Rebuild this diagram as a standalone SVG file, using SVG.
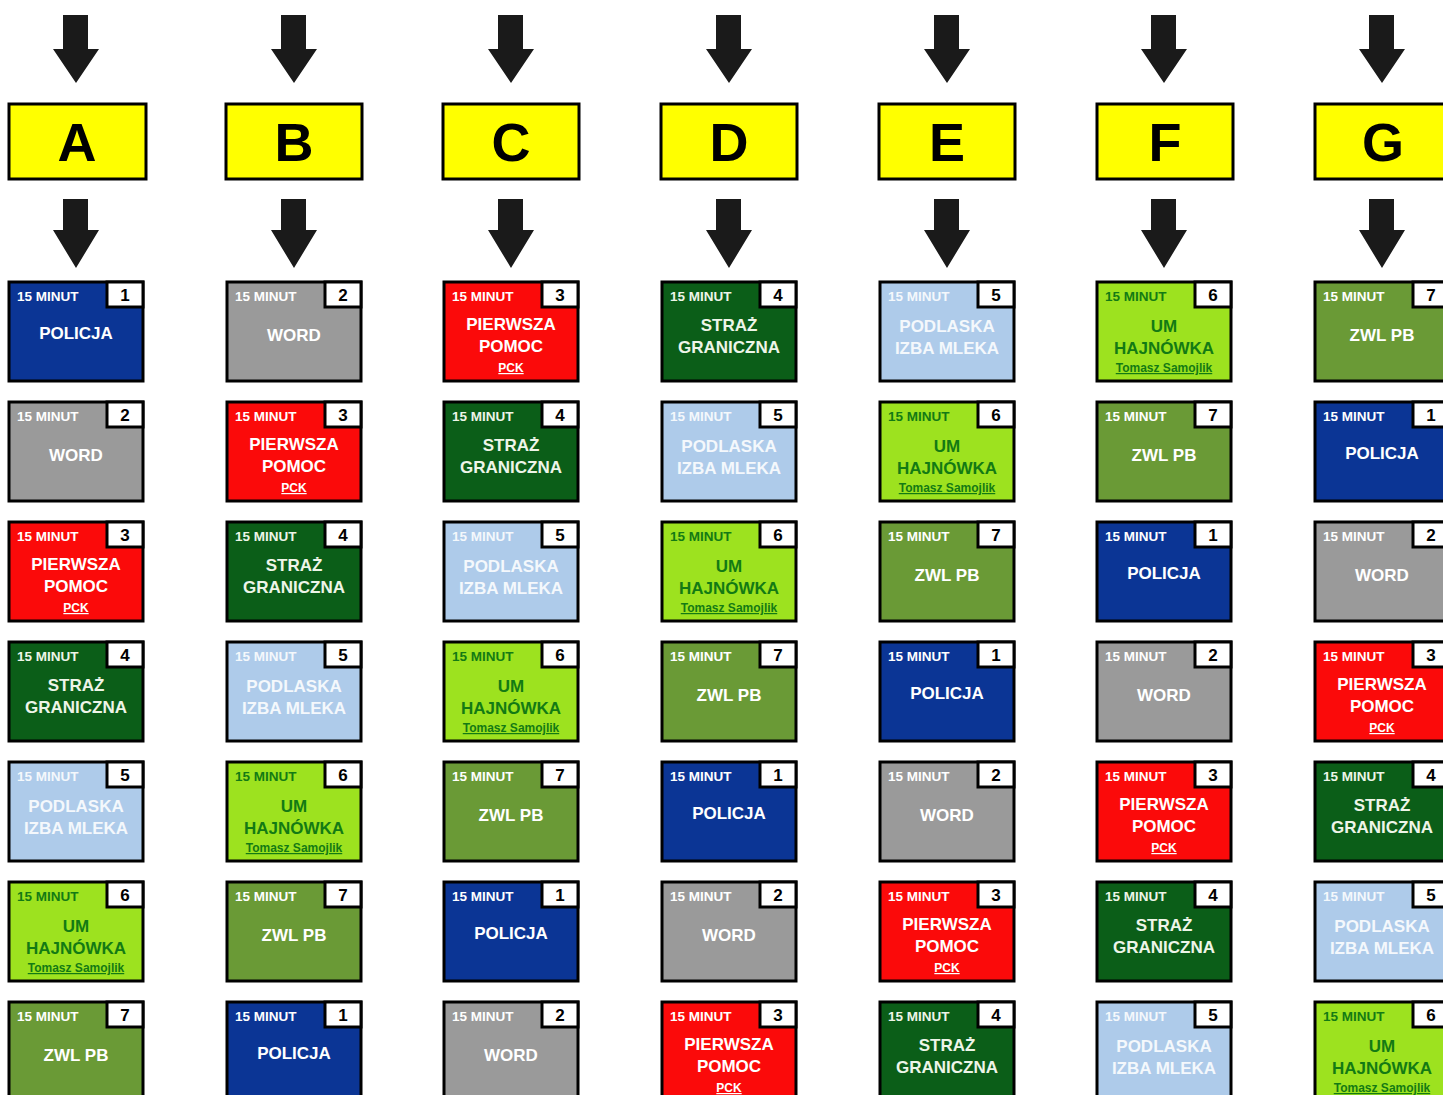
<svg xmlns="http://www.w3.org/2000/svg" width="1443" height="1095" viewBox="0 0 1443 1095">
<defs>
<style>
.bg{stroke:#000;stroke-width:3}
.nb{fill:#fff;stroke:#000;stroke-width:3}
.m{font-family:"Liberation Sans",Arial,sans-serif;font-weight:bold;font-size:13.5px;fill:#fff}
.n{font-family:"Liberation Sans",Arial,sans-serif;font-weight:bold;font-size:17px;fill:#000;text-anchor:middle}
.t{font-family:"Liberation Sans",Arial,sans-serif;font-weight:bold;font-size:17px;fill:#fff;text-anchor:middle}
.s{font-family:"Liberation Sans",Arial,sans-serif;font-weight:bold;font-size:12px;fill:#fff;text-anchor:middle;text-decoration:underline}
.k1 .bg{fill:#0b3595}
.k2 .bg{fill:#9a9a9a}
.k3 .bg{fill:#fb0a0a}
.k4 .bg{fill:#0b5e18}
.k5 .bg{fill:#aecbea}
.k6 .bg{fill:#9de21f}
.k7 .bg{fill:#6a9a36}
.k4 .t,.k4 .m{fill:#eef5e8}
.k5 .t,.k5 .m{fill:#f4f8fc}
.k6 .t,.k6 .m,.k6 .s{fill:#137a14}
.lb{fill:#ffff00;stroke:#000;stroke-width:3}
.lt{font-family:"Liberation Sans",Arial,sans-serif;font-weight:bold;font-size:54px;fill:#000;text-anchor:middle}
.ar{fill:#1a1a1a}
</style>
</defs>

<g id="connectors">
<polygon class="ar" points="63,15 88,15 88,49 99,49 76,83 53,49 63,49"/>
<polygon class="ar" points="63,199 88,199 88,230 99,230 76,268 53,230 63,230"/>
<polygon class="ar" points="281,15 306,15 306,49 317,49 294,83 271,49 281,49"/>
<polygon class="ar" points="281,199 306,199 306,230 317,230 294,268 271,230 281,230"/>
<polygon class="ar" points="498,15 523,15 523,49 534,49 511,83 488,49 498,49"/>
<polygon class="ar" points="498,199 523,199 523,230 534,230 511,268 488,230 498,230"/>
<polygon class="ar" points="716,15 741,15 741,49 752,49 729,83 706,49 716,49"/>
<polygon class="ar" points="716,199 741,199 741,230 752,230 729,268 706,230 716,230"/>
<polygon class="ar" points="934,15 959,15 959,49 970,49 947,83 924,49 934,49"/>
<polygon class="ar" points="934,199 959,199 959,230 970,230 947,268 924,230 934,230"/>
<polygon class="ar" points="1151,15 1176,15 1176,49 1187,49 1164,83 1141,49 1151,49"/>
<polygon class="ar" points="1151,199 1176,199 1176,230 1187,230 1164,268 1141,230 1151,230"/>
<polygon class="ar" points="1369,15 1394,15 1394,49 1405,49 1382,83 1359,49 1369,49"/>
<polygon class="ar" points="1369,199 1394,199 1394,230 1405,230 1382,268 1359,230 1369,230"/>
</g>

<g id="head-A"><rect class="lb" x="9" y="104" width="137" height="75"/><text class="lt" x="77" y="161">A</text></g>
<g id="head-B"><rect class="lb" x="226" y="104" width="136" height="75"/><text class="lt" x="294" y="161">B</text></g>
<g id="head-C"><rect class="lb" x="443" y="104" width="136" height="75"/><text class="lt" x="511" y="161">C</text></g>
<g id="head-D"><rect class="lb" x="661" y="104" width="136" height="75"/><text class="lt" x="729" y="161">D</text></g>
<g id="head-E"><rect class="lb" x="879" y="104" width="136" height="75"/><text class="lt" x="947" y="161">E</text></g>
<g id="head-F"><rect class="lb" x="1097" y="104" width="136" height="75"/><text class="lt" x="1165" y="161">F</text></g>
<g id="head-G"><rect class="lb" x="1315" y="104" width="136" height="75"/><text class="lt" x="1383" y="161">G</text></g>

<!-- Column A -->
<g id="A1" class="k1" transform="translate(9,282)"><rect class="bg" width="134" height="99"/><rect class="nb" x="98" width="36" height="25"/><text class="m" x="8" y="19">15 MINUT</text><text class="n" x="116" y="19">1</text><text class="t" x="67" y="57">POLICJA</text></g>
<g id="A2" class="k2" transform="translate(9,402)"><rect class="bg" width="134" height="99"/><rect class="nb" x="98" width="36" height="25"/><text class="m" x="8" y="19">15 MINUT</text><text class="n" x="116" y="19">2</text><text class="t" x="67" y="59">WORD</text></g>
<g id="A3" class="k3" transform="translate(9,522)"><rect class="bg" width="134" height="99"/><rect class="nb" x="98" width="36" height="25"/><text class="m" x="8" y="19">15 MINUT</text><text class="n" x="116" y="19">3</text><text class="t" x="67" y="48">PIERWSZA</text><text class="t" x="67" y="70">POMOC</text><text class="s" x="67" y="90">PCK</text></g>
<g id="A4" class="k4" transform="translate(9,642)"><rect class="bg" width="134" height="99"/><rect class="nb" x="98" width="36" height="25"/><text class="m" x="8" y="19">15 MINUT</text><text class="n" x="116" y="19">4</text><text class="t" x="67" y="49">STRAŻ</text><text class="t" x="67" y="71">GRANICZNA</text></g>
<g id="A5" class="k5" transform="translate(9,762)"><rect class="bg" width="134" height="99"/><rect class="nb" x="98" width="36" height="25"/><text class="m" x="8" y="19">15 MINUT</text><text class="n" x="116" y="19">5</text><text class="t" x="67" y="50">PODLASKA</text><text class="t" x="67" y="72">IZBA MLEKA</text></g>
<g id="A6" class="k6" transform="translate(9,882)"><rect class="bg" width="134" height="99"/><rect class="nb" x="98" width="36" height="25"/><text class="m" x="8" y="19">15 MINUT</text><text class="n" x="116" y="19">6</text><text class="t" x="67" y="50">UM</text><text class="t" x="67" y="72">HAJNÓWKA</text><text class="s" x="67" y="90">Tomasz Samojlik</text></g>
<g id="A7" class="k7" transform="translate(9,1002)"><rect class="bg" width="134" height="99"/><rect class="nb" x="98" width="36" height="25"/><text class="m" x="8" y="19">15 MINUT</text><text class="n" x="116" y="19">7</text><text class="t" x="67" y="59">ZWL PB</text></g>

<!-- Column B -->
<g id="B1" class="k2" transform="translate(227,282)"><rect class="bg" width="134" height="99"/><rect class="nb" x="98" width="36" height="25"/><text class="m" x="8" y="19">15 MINUT</text><text class="n" x="116" y="19">2</text><text class="t" x="67" y="59">WORD</text></g>
<g id="B2" class="k3" transform="translate(227,402)"><rect class="bg" width="134" height="99"/><rect class="nb" x="98" width="36" height="25"/><text class="m" x="8" y="19">15 MINUT</text><text class="n" x="116" y="19">3</text><text class="t" x="67" y="48">PIERWSZA</text><text class="t" x="67" y="70">POMOC</text><text class="s" x="67" y="90">PCK</text></g>
<g id="B3" class="k4" transform="translate(227,522)"><rect class="bg" width="134" height="99"/><rect class="nb" x="98" width="36" height="25"/><text class="m" x="8" y="19">15 MINUT</text><text class="n" x="116" y="19">4</text><text class="t" x="67" y="49">STRAŻ</text><text class="t" x="67" y="71">GRANICZNA</text></g>
<g id="B4" class="k5" transform="translate(227,642)"><rect class="bg" width="134" height="99"/><rect class="nb" x="98" width="36" height="25"/><text class="m" x="8" y="19">15 MINUT</text><text class="n" x="116" y="19">5</text><text class="t" x="67" y="50">PODLASKA</text><text class="t" x="67" y="72">IZBA MLEKA</text></g>
<g id="B5" class="k6" transform="translate(227,762)"><rect class="bg" width="134" height="99"/><rect class="nb" x="98" width="36" height="25"/><text class="m" x="8" y="19">15 MINUT</text><text class="n" x="116" y="19">6</text><text class="t" x="67" y="50">UM</text><text class="t" x="67" y="72">HAJNÓWKA</text><text class="s" x="67" y="90">Tomasz Samojlik</text></g>
<g id="B6" class="k7" transform="translate(227,882)"><rect class="bg" width="134" height="99"/><rect class="nb" x="98" width="36" height="25"/><text class="m" x="8" y="19">15 MINUT</text><text class="n" x="116" y="19">7</text><text class="t" x="67" y="59">ZWL PB</text></g>
<g id="B7" class="k1" transform="translate(227,1002)"><rect class="bg" width="134" height="99"/><rect class="nb" x="98" width="36" height="25"/><text class="m" x="8" y="19">15 MINUT</text><text class="n" x="116" y="19">1</text><text class="t" x="67" y="57">POLICJA</text></g>

<!-- Column C -->
<g id="C1" class="k3" transform="translate(444,282)"><rect class="bg" width="134" height="99"/><rect class="nb" x="98" width="36" height="25"/><text class="m" x="8" y="19">15 MINUT</text><text class="n" x="116" y="19">3</text><text class="t" x="67" y="48">PIERWSZA</text><text class="t" x="67" y="70">POMOC</text><text class="s" x="67" y="90">PCK</text></g>
<g id="C2" class="k4" transform="translate(444,402)"><rect class="bg" width="134" height="99"/><rect class="nb" x="98" width="36" height="25"/><text class="m" x="8" y="19">15 MINUT</text><text class="n" x="116" y="19">4</text><text class="t" x="67" y="49">STRAŻ</text><text class="t" x="67" y="71">GRANICZNA</text></g>
<g id="C3" class="k5" transform="translate(444,522)"><rect class="bg" width="134" height="99"/><rect class="nb" x="98" width="36" height="25"/><text class="m" x="8" y="19">15 MINUT</text><text class="n" x="116" y="19">5</text><text class="t" x="67" y="50">PODLASKA</text><text class="t" x="67" y="72">IZBA MLEKA</text></g>
<g id="C4" class="k6" transform="translate(444,642)"><rect class="bg" width="134" height="99"/><rect class="nb" x="98" width="36" height="25"/><text class="m" x="8" y="19">15 MINUT</text><text class="n" x="116" y="19">6</text><text class="t" x="67" y="50">UM</text><text class="t" x="67" y="72">HAJNÓWKA</text><text class="s" x="67" y="90">Tomasz Samojlik</text></g>
<g id="C5" class="k7" transform="translate(444,762)"><rect class="bg" width="134" height="99"/><rect class="nb" x="98" width="36" height="25"/><text class="m" x="8" y="19">15 MINUT</text><text class="n" x="116" y="19">7</text><text class="t" x="67" y="59">ZWL PB</text></g>
<g id="C6" class="k1" transform="translate(444,882)"><rect class="bg" width="134" height="99"/><rect class="nb" x="98" width="36" height="25"/><text class="m" x="8" y="19">15 MINUT</text><text class="n" x="116" y="19">1</text><text class="t" x="67" y="57">POLICJA</text></g>
<g id="C7" class="k2" transform="translate(444,1002)"><rect class="bg" width="134" height="99"/><rect class="nb" x="98" width="36" height="25"/><text class="m" x="8" y="19">15 MINUT</text><text class="n" x="116" y="19">2</text><text class="t" x="67" y="59">WORD</text></g>

<!-- Column D -->
<g id="D1" class="k4" transform="translate(662,282)"><rect class="bg" width="134" height="99"/><rect class="nb" x="98" width="36" height="25"/><text class="m" x="8" y="19">15 MINUT</text><text class="n" x="116" y="19">4</text><text class="t" x="67" y="49">STRAŻ</text><text class="t" x="67" y="71">GRANICZNA</text></g>
<g id="D2" class="k5" transform="translate(662,402)"><rect class="bg" width="134" height="99"/><rect class="nb" x="98" width="36" height="25"/><text class="m" x="8" y="19">15 MINUT</text><text class="n" x="116" y="19">5</text><text class="t" x="67" y="50">PODLASKA</text><text class="t" x="67" y="72">IZBA MLEKA</text></g>
<g id="D3" class="k6" transform="translate(662,522)"><rect class="bg" width="134" height="99"/><rect class="nb" x="98" width="36" height="25"/><text class="m" x="8" y="19">15 MINUT</text><text class="n" x="116" y="19">6</text><text class="t" x="67" y="50">UM</text><text class="t" x="67" y="72">HAJNÓWKA</text><text class="s" x="67" y="90">Tomasz Samojlik</text></g>
<g id="D4" class="k7" transform="translate(662,642)"><rect class="bg" width="134" height="99"/><rect class="nb" x="98" width="36" height="25"/><text class="m" x="8" y="19">15 MINUT</text><text class="n" x="116" y="19">7</text><text class="t" x="67" y="59">ZWL PB</text></g>
<g id="D5" class="k1" transform="translate(662,762)"><rect class="bg" width="134" height="99"/><rect class="nb" x="98" width="36" height="25"/><text class="m" x="8" y="19">15 MINUT</text><text class="n" x="116" y="19">1</text><text class="t" x="67" y="57">POLICJA</text></g>
<g id="D6" class="k2" transform="translate(662,882)"><rect class="bg" width="134" height="99"/><rect class="nb" x="98" width="36" height="25"/><text class="m" x="8" y="19">15 MINUT</text><text class="n" x="116" y="19">2</text><text class="t" x="67" y="59">WORD</text></g>
<g id="D7" class="k3" transform="translate(662,1002)"><rect class="bg" width="134" height="99"/><rect class="nb" x="98" width="36" height="25"/><text class="m" x="8" y="19">15 MINUT</text><text class="n" x="116" y="19">3</text><text class="t" x="67" y="48">PIERWSZA</text><text class="t" x="67" y="70">POMOC</text><text class="s" x="67" y="90">PCK</text></g>

<!-- Column E -->
<g id="E1" class="k5" transform="translate(880,282)"><rect class="bg" width="134" height="99"/><rect class="nb" x="98" width="36" height="25"/><text class="m" x="8" y="19">15 MINUT</text><text class="n" x="116" y="19">5</text><text class="t" x="67" y="50">PODLASKA</text><text class="t" x="67" y="72">IZBA MLEKA</text></g>
<g id="E2" class="k6" transform="translate(880,402)"><rect class="bg" width="134" height="99"/><rect class="nb" x="98" width="36" height="25"/><text class="m" x="8" y="19">15 MINUT</text><text class="n" x="116" y="19">6</text><text class="t" x="67" y="50">UM</text><text class="t" x="67" y="72">HAJNÓWKA</text><text class="s" x="67" y="90">Tomasz Samojlik</text></g>
<g id="E3" class="k7" transform="translate(880,522)"><rect class="bg" width="134" height="99"/><rect class="nb" x="98" width="36" height="25"/><text class="m" x="8" y="19">15 MINUT</text><text class="n" x="116" y="19">7</text><text class="t" x="67" y="59">ZWL PB</text></g>
<g id="E4" class="k1" transform="translate(880,642)"><rect class="bg" width="134" height="99"/><rect class="nb" x="98" width="36" height="25"/><text class="m" x="8" y="19">15 MINUT</text><text class="n" x="116" y="19">1</text><text class="t" x="67" y="57">POLICJA</text></g>
<g id="E5" class="k2" transform="translate(880,762)"><rect class="bg" width="134" height="99"/><rect class="nb" x="98" width="36" height="25"/><text class="m" x="8" y="19">15 MINUT</text><text class="n" x="116" y="19">2</text><text class="t" x="67" y="59">WORD</text></g>
<g id="E6" class="k3" transform="translate(880,882)"><rect class="bg" width="134" height="99"/><rect class="nb" x="98" width="36" height="25"/><text class="m" x="8" y="19">15 MINUT</text><text class="n" x="116" y="19">3</text><text class="t" x="67" y="48">PIERWSZA</text><text class="t" x="67" y="70">POMOC</text><text class="s" x="67" y="90">PCK</text></g>
<g id="E7" class="k4" transform="translate(880,1002)"><rect class="bg" width="134" height="99"/><rect class="nb" x="98" width="36" height="25"/><text class="m" x="8" y="19">15 MINUT</text><text class="n" x="116" y="19">4</text><text class="t" x="67" y="49">STRAŻ</text><text class="t" x="67" y="71">GRANICZNA</text></g>

<!-- Column F -->
<g id="F1" class="k6" transform="translate(1097,282)"><rect class="bg" width="134" height="99"/><rect class="nb" x="98" width="36" height="25"/><text class="m" x="8" y="19">15 MINUT</text><text class="n" x="116" y="19">6</text><text class="t" x="67" y="50">UM</text><text class="t" x="67" y="72">HAJNÓWKA</text><text class="s" x="67" y="90">Tomasz Samojlik</text></g>
<g id="F2" class="k7" transform="translate(1097,402)"><rect class="bg" width="134" height="99"/><rect class="nb" x="98" width="36" height="25"/><text class="m" x="8" y="19">15 MINUT</text><text class="n" x="116" y="19">7</text><text class="t" x="67" y="59">ZWL PB</text></g>
<g id="F3" class="k1" transform="translate(1097,522)"><rect class="bg" width="134" height="99"/><rect class="nb" x="98" width="36" height="25"/><text class="m" x="8" y="19">15 MINUT</text><text class="n" x="116" y="19">1</text><text class="t" x="67" y="57">POLICJA</text></g>
<g id="F4" class="k2" transform="translate(1097,642)"><rect class="bg" width="134" height="99"/><rect class="nb" x="98" width="36" height="25"/><text class="m" x="8" y="19">15 MINUT</text><text class="n" x="116" y="19">2</text><text class="t" x="67" y="59">WORD</text></g>
<g id="F5" class="k3" transform="translate(1097,762)"><rect class="bg" width="134" height="99"/><rect class="nb" x="98" width="36" height="25"/><text class="m" x="8" y="19">15 MINUT</text><text class="n" x="116" y="19">3</text><text class="t" x="67" y="48">PIERWSZA</text><text class="t" x="67" y="70">POMOC</text><text class="s" x="67" y="90">PCK</text></g>
<g id="F6" class="k4" transform="translate(1097,882)"><rect class="bg" width="134" height="99"/><rect class="nb" x="98" width="36" height="25"/><text class="m" x="8" y="19">15 MINUT</text><text class="n" x="116" y="19">4</text><text class="t" x="67" y="49">STRAŻ</text><text class="t" x="67" y="71">GRANICZNA</text></g>
<g id="F7" class="k5" transform="translate(1097,1002)"><rect class="bg" width="134" height="99"/><rect class="nb" x="98" width="36" height="25"/><text class="m" x="8" y="19">15 MINUT</text><text class="n" x="116" y="19">5</text><text class="t" x="67" y="50">PODLASKA</text><text class="t" x="67" y="72">IZBA MLEKA</text></g>

<!-- Column G -->
<g id="G1" class="k7" transform="translate(1315,282)"><rect class="bg" width="134" height="99"/><rect class="nb" x="98" width="36" height="25"/><text class="m" x="8" y="19">15 MINUT</text><text class="n" x="116" y="19">7</text><text class="t" x="67" y="59">ZWL PB</text></g>
<g id="G2" class="k1" transform="translate(1315,402)"><rect class="bg" width="134" height="99"/><rect class="nb" x="98" width="36" height="25"/><text class="m" x="8" y="19">15 MINUT</text><text class="n" x="116" y="19">1</text><text class="t" x="67" y="57">POLICJA</text></g>
<g id="G3" class="k2" transform="translate(1315,522)"><rect class="bg" width="134" height="99"/><rect class="nb" x="98" width="36" height="25"/><text class="m" x="8" y="19">15 MINUT</text><text class="n" x="116" y="19">2</text><text class="t" x="67" y="59">WORD</text></g>
<g id="G4" class="k3" transform="translate(1315,642)"><rect class="bg" width="134" height="99"/><rect class="nb" x="98" width="36" height="25"/><text class="m" x="8" y="19">15 MINUT</text><text class="n" x="116" y="19">3</text><text class="t" x="67" y="48">PIERWSZA</text><text class="t" x="67" y="70">POMOC</text><text class="s" x="67" y="90">PCK</text></g>
<g id="G5" class="k4" transform="translate(1315,762)"><rect class="bg" width="134" height="99"/><rect class="nb" x="98" width="36" height="25"/><text class="m" x="8" y="19">15 MINUT</text><text class="n" x="116" y="19">4</text><text class="t" x="67" y="49">STRAŻ</text><text class="t" x="67" y="71">GRANICZNA</text></g>
<g id="G6" class="k5" transform="translate(1315,882)"><rect class="bg" width="134" height="99"/><rect class="nb" x="98" width="36" height="25"/><text class="m" x="8" y="19">15 MINUT</text><text class="n" x="116" y="19">5</text><text class="t" x="67" y="50">PODLASKA</text><text class="t" x="67" y="72">IZBA MLEKA</text></g>
<g id="G7" class="k6" transform="translate(1315,1002)"><rect class="bg" width="134" height="99"/><rect class="nb" x="98" width="36" height="25"/><text class="m" x="8" y="19">15 MINUT</text><text class="n" x="116" y="19">6</text><text class="t" x="67" y="50">UM</text><text class="t" x="67" y="72">HAJNÓWKA</text><text class="s" x="67" y="90">Tomasz Samojlik</text></g>
</svg>
